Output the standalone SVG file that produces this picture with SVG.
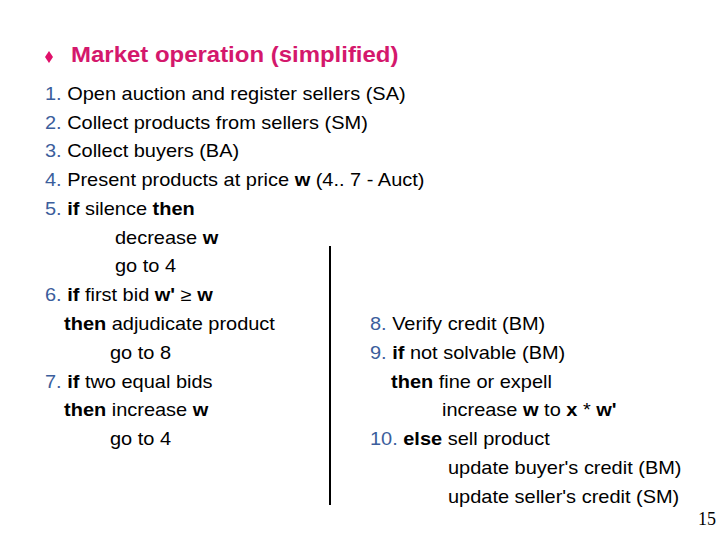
<svg xmlns="http://www.w3.org/2000/svg" width="720" height="540" viewBox="0 0 720 540">
<style>
text{font-family:"Liberation Sans",Arial,sans-serif;font-size:18px;fill:#000}
.n{fill:#3b5e9c}
.b{font-weight:bold}
.t{font-size:21.6px;font-weight:bold;fill:#d4186c}
.pg{font-family:"Liberation Serif","Times New Roman",serif;font-size:18px}
</style>
<rect width="720" height="540" fill="#fff"/>
<polygon points="49,51 53,57 49,63 45,57" fill="#e0106a"/>
<g transform="scale(1.11,1)">
<text class="t" x="64" y="62">Market operation (simplified)</text>
<g id="left">
<text x="40.5" y="100"><tspan class="n">1.</tspan> Open auction and register sellers (SA)</text>
<text x="40.5" y="129"><tspan class="n">2.</tspan> Collect products from sellers (SM)</text>
<text x="40.5" y="157"><tspan class="n">3.</tspan> Collect buyers (BA)</text>
<text x="40.5" y="186"><tspan class="n">4.</tspan> Present products at price <tspan class="b">w</tspan> (4.. 7 - Auct)</text>
<text x="40.5" y="215"><tspan class="n">5.</tspan> <tspan class="b">if</tspan> silence <tspan class="b">then</tspan></text>
<text x="103.6" y="244">decrease <tspan class="b">w</tspan></text>
<text x="103.6" y="272">go to 4</text>
<text x="40.5" y="301"><tspan class="n">6.</tspan> <tspan class="b">if</tspan> first bid <tspan class="b">w'</tspan> ≥ <tspan class="b">w</tspan></text>
<text x="57.7" y="330"><tspan class="b">then</tspan> adjudicate product</text>
<text x="99.1" y="359">go to 8</text>
<text x="40.5" y="388"><tspan class="n">7.</tspan> <tspan class="b">if</tspan> two equal bids</text>
<text x="57.7" y="416"><tspan class="b">then</tspan> increase <tspan class="b">w</tspan></text>
<text x="99.1" y="445">go to 4</text>
</g>
<g id="right">
<text x="333.3" y="330"><tspan class="n">8.</tspan> Verify credit (BM)</text>
<text x="333.3" y="359"><tspan class="n">9.</tspan> <tspan class="b">if</tspan> not solvable (BM)</text>
<text x="352.3" y="388"><tspan class="b">then</tspan> fine or expell</text>
<text x="398.2" y="416">increase <tspan class="b">w</tspan> to <tspan class="b">x</tspan> * <tspan class="b">w'</tspan></text>
<text x="333.3" y="445"><tspan class="n">10.</tspan> <tspan class="b">else</tspan> sell product</text>
<text x="403.6" y="474">update buyer's credit (BM)</text>
<text x="403.6" y="503">update seller's credit (SM)</text>
</g>
</g>
<line x1="330" y1="246" x2="330" y2="505" stroke="#000" stroke-width="2"/>
<text class="pg" x="716" y="525" text-anchor="end">15</text>
</svg>
